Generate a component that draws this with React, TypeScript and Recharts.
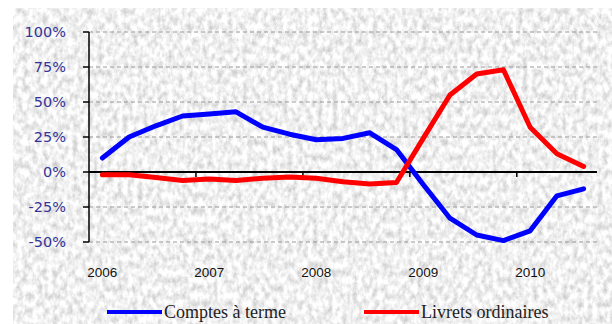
import { LineChart, Line, XAxis, YAxis, CartesianGrid, ReferenceLine, Legend } from 'recharts';

// quarterly change, in %
const YEARS = ['2006', '2007', '2008', '2009', '2010'];
const YEAR_POSITIONS = [0, 4, 8, 12, 16];
const YEAR_BOUNDARIES = [3.5, 7.5, 11.5, 15.5];
const PCT_TICKS = [-50, -25, 0, 25, 50, 75, 100];

const COMPTES_A_TERME = [10, 25, 33, 40, 41.5, 43, 32, 27, 23, 24, 28, 16, -9, -33, -45, -49, -42, -17, -12];
const LIVRETS_ORDINAIRES = [-2, -2, -4, -6, -5, -6, -4.5, -3.5, -4.5, -7, -8.5, -7.5, 24, 55, 70, 73, 32, 13, 4];

const data = COMPTES_A_TERME.map((v, i) => ({
  q: i,
  comptes: v,
  livrets: LIVRETS_ORDINAIRES[i],
}));

// grey granite backdrop
const NOISE_SVG =
  "<svg xmlns='http://www.w3.org/2000/svg' width='600' height='320'>" +
  "<filter id='g' x='0' y='0' width='100%' height='100%'>" +
  "<feTurbulence type='fractalNoise' baseFrequency='0.2 0.13' numOctaves='4' seed='11'/>" +
  "<feColorMatrix type='matrix' values='0.75 0 0 0 0.5 0.75 0 0 0 0.5 0.75 0 0 0 0.5 0 0 0 0 1'/>" +
  "</filter><rect width='100%' height='100%' filter='url(#g)'/></svg>";
const NOISE_URL = `url("data:image/svg+xml,${encodeURIComponent(NOISE_SVG)}")`;

const yearLabel = (v: number) => YEARS[YEAR_POSITIONS.indexOf(v)] ?? '';

function LegendContent({ payload }: { payload?: { value: string; color: string }[] }) {
  return (
    <div style={{ display: 'flex', height: 24, alignItems: 'center', paddingLeft: 107 }}>
      {(payload ?? []).map((item, i) => (
        <div key={item.value} style={{ display: 'flex', alignItems: 'center', marginRight: i === 0 ? 78 : 0 }}>
          <div style={{ width: 55, height: 4, background: item.color, marginRight: 2 }} />
          <span style={{ fontFamily: '"Liberation Serif", serif', fontSize: 18, color: '#222', lineHeight: '18px' }}>
            {item.value}
          </span>
        </div>
      ))}
    </div>
  );
}

export default function App() {
  return (
    <div style={{ position: 'absolute', left: 0, top: 0, width: 612, height: 324, background: '#fff', overflow: 'hidden' }}>
      <div style={{ position: 'absolute', left: 13, top: 8, right: 0, bottom: 0, backgroundImage: NOISE_URL }} />
      <div style={{ position: 'absolute', left: 0, top: 0 }}>
        <LineChart width={612} height={324} data={data} margin={{ top: 32, right: 15, bottom: 0, left: 0 }}>
          <CartesianGrid
            vertical={false}
            stroke="#9a9a9a"
            strokeDasharray="4 3"
            horizontalValues={PCT_TICKS.filter((t) => t !== 0)}
          />
          <XAxis
            dataKey="q"
            type="number"
            domain={[-0.5, 18.5]}
            ticks={YEAR_POSITIONS}
            tickFormatter={yearLabel}
            axisLine={false}
            tickLine={false}
            tickMargin={19}
            height={58}
            tick={{ fill: '#111', fontSize: 13.5, fontFamily: '"Liberation Sans", Arial, sans-serif' }}
          />
          <YAxis
            type="number"
            domain={[-50, 100]}
            ticks={PCT_TICKS}
            tickFormatter={(v: number) => `${v}%`}
            width={89}
            axisLine={{ stroke: '#000', strokeWidth: 1.5 }}
            tickLine={{ stroke: '#000', strokeWidth: 1.5 }}
            tickSize={6}
            tickMargin={17}
            tick={{ fill: '#333399', fontSize: 14.5, fontFamily: '"DejaVu Sans", sans-serif' }}
          />
          <ReferenceLine y={0} stroke="#000" strokeWidth={2} />
          {YEAR_BOUNDARIES.map((b) => (
            <ReferenceLine
              key={b}
              segment={[
                { x: b, y: 0 },
                { x: b, y: -3.5 },
              ]}
              stroke="#000"
              strokeWidth={1.5}
            />
          ))}
          <Line
            dataKey="comptes"
            name="Comptes à terme"
            stroke="#0000ff"
            strokeWidth={5}
            strokeLinejoin="round"
            strokeLinecap="round"
            dot={false}
            isAnimationActive={false}
          />
          <Line
            dataKey="livrets"
            name="Livrets ordinaires"
            stroke="#ff0000"
            strokeWidth={5}
            strokeLinejoin="round"
            strokeLinecap="round"
            dot={false}
            isAnimationActive={false}
          />
          <Legend verticalAlign="bottom" height={24} content={<LegendContent />} />
        </LineChart>
      </div>
    </div>
  );
}
